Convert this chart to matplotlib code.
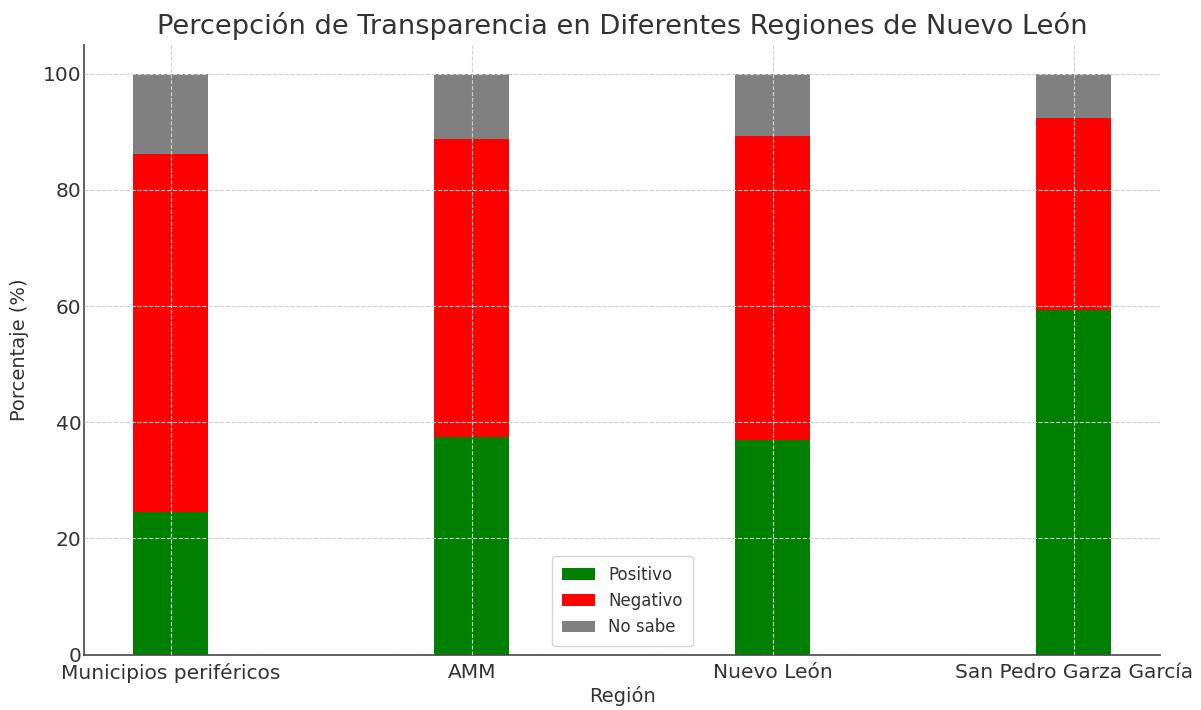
import matplotlib
matplotlib.use("Agg")
import matplotlib.pyplot as plt
import numpy as np

regiones = ["Municipios periféricos", "AMM", "Nuevo León", "San Pedro Garza García"]
positivo = [24.5, 37.5, 37.0, 59.4]
negativo = [61.7, 51.3, 52.3, 33.0]
no_sabe = [13.8, 11.2, 10.7, 7.6]

x = np.arange(len(regiones))
ancho = 0.25
txt = '#333333'

fig, ax = plt.subplots(figsize=(12.01, 7.10), dpi=100)

ax.bar(x, positivo, ancho, color='green', label='Positivo')
ax.bar(x, negativo, ancho, bottom=positivo, color='red', label='Negativo')
base = np.array(positivo) + np.array(negativo)
ax.bar(x, no_sabe, ancho, bottom=base, color='gray', label='No sabe')

ax.set_xticks(x)
ax.set_xticklabels(regiones)
ax.set_title('Percepción de Transparencia en Diferentes Regiones de Nuevo León',
             fontsize=19.6, color=txt, pad=8)
ax.set_xlabel('Región', fontsize=14, color=txt, labelpad=2)
ax.set_ylabel('Porcentaje (%)', fontsize=14, color=txt, labelpad=10)
ax.tick_params(axis='both', length=0, labelsize=14.5, labelcolor=txt, pad=2)
ax.tick_params(axis='x', pad=6)

ax.grid(True, linestyle='--', color='#d0d0d0', linewidth=0.8)
ax.set_axisbelow(False)
for s in ['top', 'right']:
    ax.spines[s].set_visible(False)
for s in ['left', 'bottom']:
    ax.spines[s].set_color('#444444')
    ax.spines[s].set_linewidth(1.2)

ax.legend(loc='lower center', fontsize=12, labelcolor=txt, borderpad=0.6)

fig.subplots_adjust(left=0.07, right=0.966, top=0.937, bottom=0.078)
fig.savefig('out.png', dpi=100)
